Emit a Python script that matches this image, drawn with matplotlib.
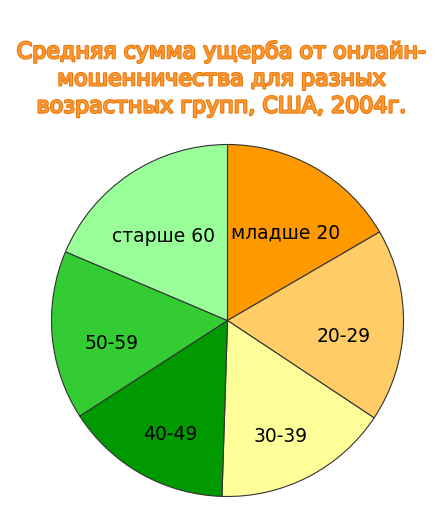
import matplotlib
matplotlib.use('Agg')
import matplotlib.pyplot as plt
import matplotlib.patheffects as pe

# доли по возрастным группам (в градусах круга)
groups = ['младше 20', '20-29', '30-39', '40-49', '50-59', 'старше 60']
values = [59.8, 63.8, 58.2, 55.3, 55.9, 67.0]
colors = ['#FF9900', '#FFCC66', '#FFFF99', '#009900', '#33CC33', '#99FF99']
title = 'Средняя сумма ущерба от онлайн-\nмошенничества для разных\nвозрастных групп, США, 2004г.'

plt.rcParams['font.family'] = ['DejaVu Sans']

fig = plt.figure(figsize=(4.43, 5.16), dpi=100)
W, H = 443, 516
cx, cy, r = 227.5, 320.5, 176
ax = fig.add_axes([(cx - r) / W, (H - cy - r) / H, 2 * r / W, 2 * r / H])

wedges, texts = ax.pie(values, labels=groups, colors=colors, startangle=90,
                       counterclock=False, labeldistance=0.66,
                       wedgeprops=dict(edgecolor='#333333', linewidth=0.8),
                       textprops=dict(fontsize=13.5, ha='center', va='center', color='black'))
# подписи в оригинале чуть ниже центра сектора
for t in texts:
    x, y = t.get_position()
    t.set_position((x, y - 0.074))
ax.set_xlim(-1, 1)
ax.set_ylim(-1, 1)

fig.text(0.5, (H - 79) / H, title, ha='center', va='center', fontsize=16,
         color='#FF9A33', linespacing=1.45,
         path_effects=[pe.withStroke(linewidth=1.6, foreground='#E87A10')])

fig.savefig('out.png', dpi=100)
